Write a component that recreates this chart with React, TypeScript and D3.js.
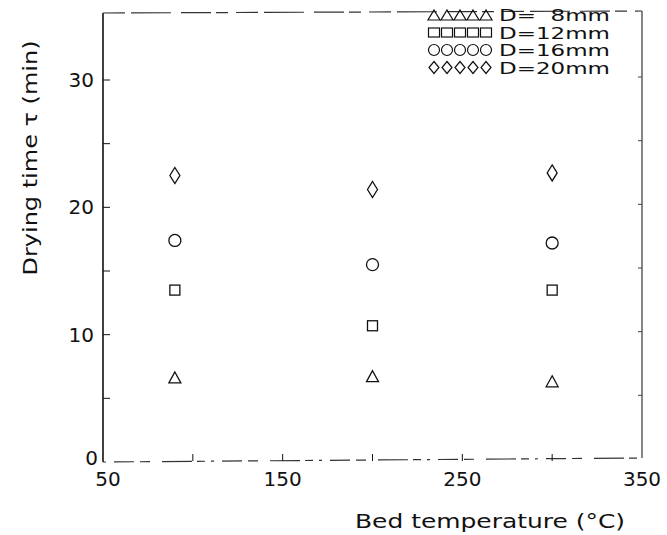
import React from "react";
import * as d3 from "d3";

const temperatures = [90, 200, 300];
const seriesNames = ["D=  8mm", "D=12mm", "D=16mm", "D=20mm"];
const seriesSymbols = ["triangle", "square", "circle", "diamond"];
const d8 = [6.6, 6.7, 6.3];
const d12 = [13.5, 10.7, 13.5];
const d16 = [17.4, 15.5, 17.2];
const d20 = [22.5, 21.4, 22.7];
const seriesValues = [d8, d12, d16, d20];
const xTickLabels = [50, 150, 250, 350];
const xMinorTicks = [100, 150, 200, 250, 300];
const yTickLabels = [0, 10, 20, 30];
const yMinorTicks = [5, 10, 15, 20, 25, 30];

const W = 667, H = 535;
const left = 103, right = 642, top = 13, bottom = 462;
const FONT = "'DejaVu Sans', sans-serif";

function Marker({ type, x, y }: { type: string; x: number; y: number }) {
  const common = { fill: "none", stroke: "#111", strokeWidth: 1.3 };
  if (type === "triangle")
    return <path d={`M${x},${y - 6}L${x + 6},${y + 5}L${x - 6},${y + 5}Z`} {...common} />;
  if (type === "square")
    return <rect x={x - 5} y={y - 5} width={10} height={10} {...common} />;
  if (type === "circle") return <circle cx={x} cy={y} r={6} {...common} />;
  return <path d={`M${x},${y - 8}L${x + 5},${y}L${x},${y + 8}L${x - 5},${y}Z`} {...common} />;
}

function LegendMarker({ type, x, y }: { type: string; x: number; y: number }) {
  const common = { fill: "none", stroke: "#111", strokeWidth: 1.2 };
  if (type === "triangle")
    return <path d={`M${x},${y - 5}L${x + 6},${y + 5}L${x - 6},${y + 5}Z`} {...common} />;
  if (type === "square")
    return <rect x={x - 5.5} y={y - 4.5} width={11} height={9} {...common} />;
  if (type === "circle") return <circle cx={x} cy={y} r={5.5} {...common} />;
  return <path d={`M${x},${y - 6}L${x + 5},${y}L${x},${y + 6}L${x - 5},${y}Z`} {...common} />;
}

export default function App() {
  const xScale = d3.scaleLinear().domain([50, 350]).range([left, right]);
  const yScale = d3.scaleLinear().domain([0, 30]).range([bottom, 80]);

  return (
    <svg
      width={W}
      height={H}
      style={{ position: "absolute", left: 0, top: 0, background: "#fff" }}
      fontFamily={FONT}
    >
      {/* frame */}
      <line x1={left} y1={top} x2={left} y2={bottom} stroke="#111" strokeWidth={1.6} />
      <line x1={right} y1={top - 2} x2={right} y2={bottom - 4} stroke="#444" strokeWidth={1.3} />
      <line x1={left} y1={top} x2={right} y2={top - 2} stroke="#333" strokeWidth={1.2} strokeDasharray="22 6 40 10 30 5 12 8" />
      <line x1={left} y1={bottom} x2={right} y2={bottom - 4} stroke="#333" strokeWidth={1.2} strokeDasharray="3 8 20 6 10 12 30 5 8 6" />

      {/* x ticks */}
      {xMinorTicks.map((t) => (
        <line key={"xt" + t} x1={xScale(t)} x2={xScale(t)} y1={bottom - 1} y2={bottom - 8} stroke="#111" strokeWidth={1} />
      ))}
      {xTickLabels.map((t) => (
        <text key={"xl" + t} x={xScale(t) + (t === 50 ? 5 : 0)} y={486} textAnchor="middle" fontSize={20} fill="#111">
          {t}
        </text>
      ))}

      {/* y ticks */}
      {yMinorTicks.map((t) => (
        <g key={"yt" + t}>
          <line x1={left} x2={left + 7} y1={yScale(t)} y2={yScale(t)} stroke="#111" strokeWidth={1} />
          <line x1={right} x2={right - 4} y1={yScale(t) - 3} y2={yScale(t) - 3} stroke="#444" strokeWidth={1} />
        </g>
      ))}
      {yTickLabels.map((t) => (
        <text
          key={"yl" + t}
          x={t === 0 ? 98 : 94}
          y={yScale(t) + (t === 0 ? 3 : 7)}
          textAnchor="end"
          fontSize={20}
          fill="#111"
        >
          {t}
        </text>
      ))}

      {/* data */}
      {seriesValues.map((vals, si) =>
        vals.map((v, i) => (
          <Marker key={si + "-" + i} type={seriesSymbols[si]} x={xScale(temperatures[i])} y={yScale(v)} />
        ))
      )}

      {/* legend */}
      {seriesNames.map((name, si) => {
        const y = 15 + si * 17.5;
        return (
          <g key={"lg" + si}>
            {[0, 1, 2, 3, 4].map((k) => (
              <LegendMarker key={k} type={seriesSymbols[si]} x={434 + k * 13} y={y} />
            ))}
            <text x={499} y={y + 6} fontSize={15.5} fill="#111" textLength={111} lengthAdjust="spacingAndGlyphs" style={{ whiteSpace: "pre" }}>
              {name}
            </text>
          </g>
        );
      })}

      {/* axis titles */}
      <text x={355} y={528} fontSize={20} fill="#111" textLength={270} lengthAdjust="spacingAndGlyphs">
        Bed temperature (°C)
      </text>
      <text
        transform="translate(37,158) rotate(-90)"
        textAnchor="middle"
        fontSize={20}
        fill="#111"
        textLength={235}
        lengthAdjust="spacingAndGlyphs"
      >
        Drying time τ (min)
      </text>
    </svg>
  );
}
